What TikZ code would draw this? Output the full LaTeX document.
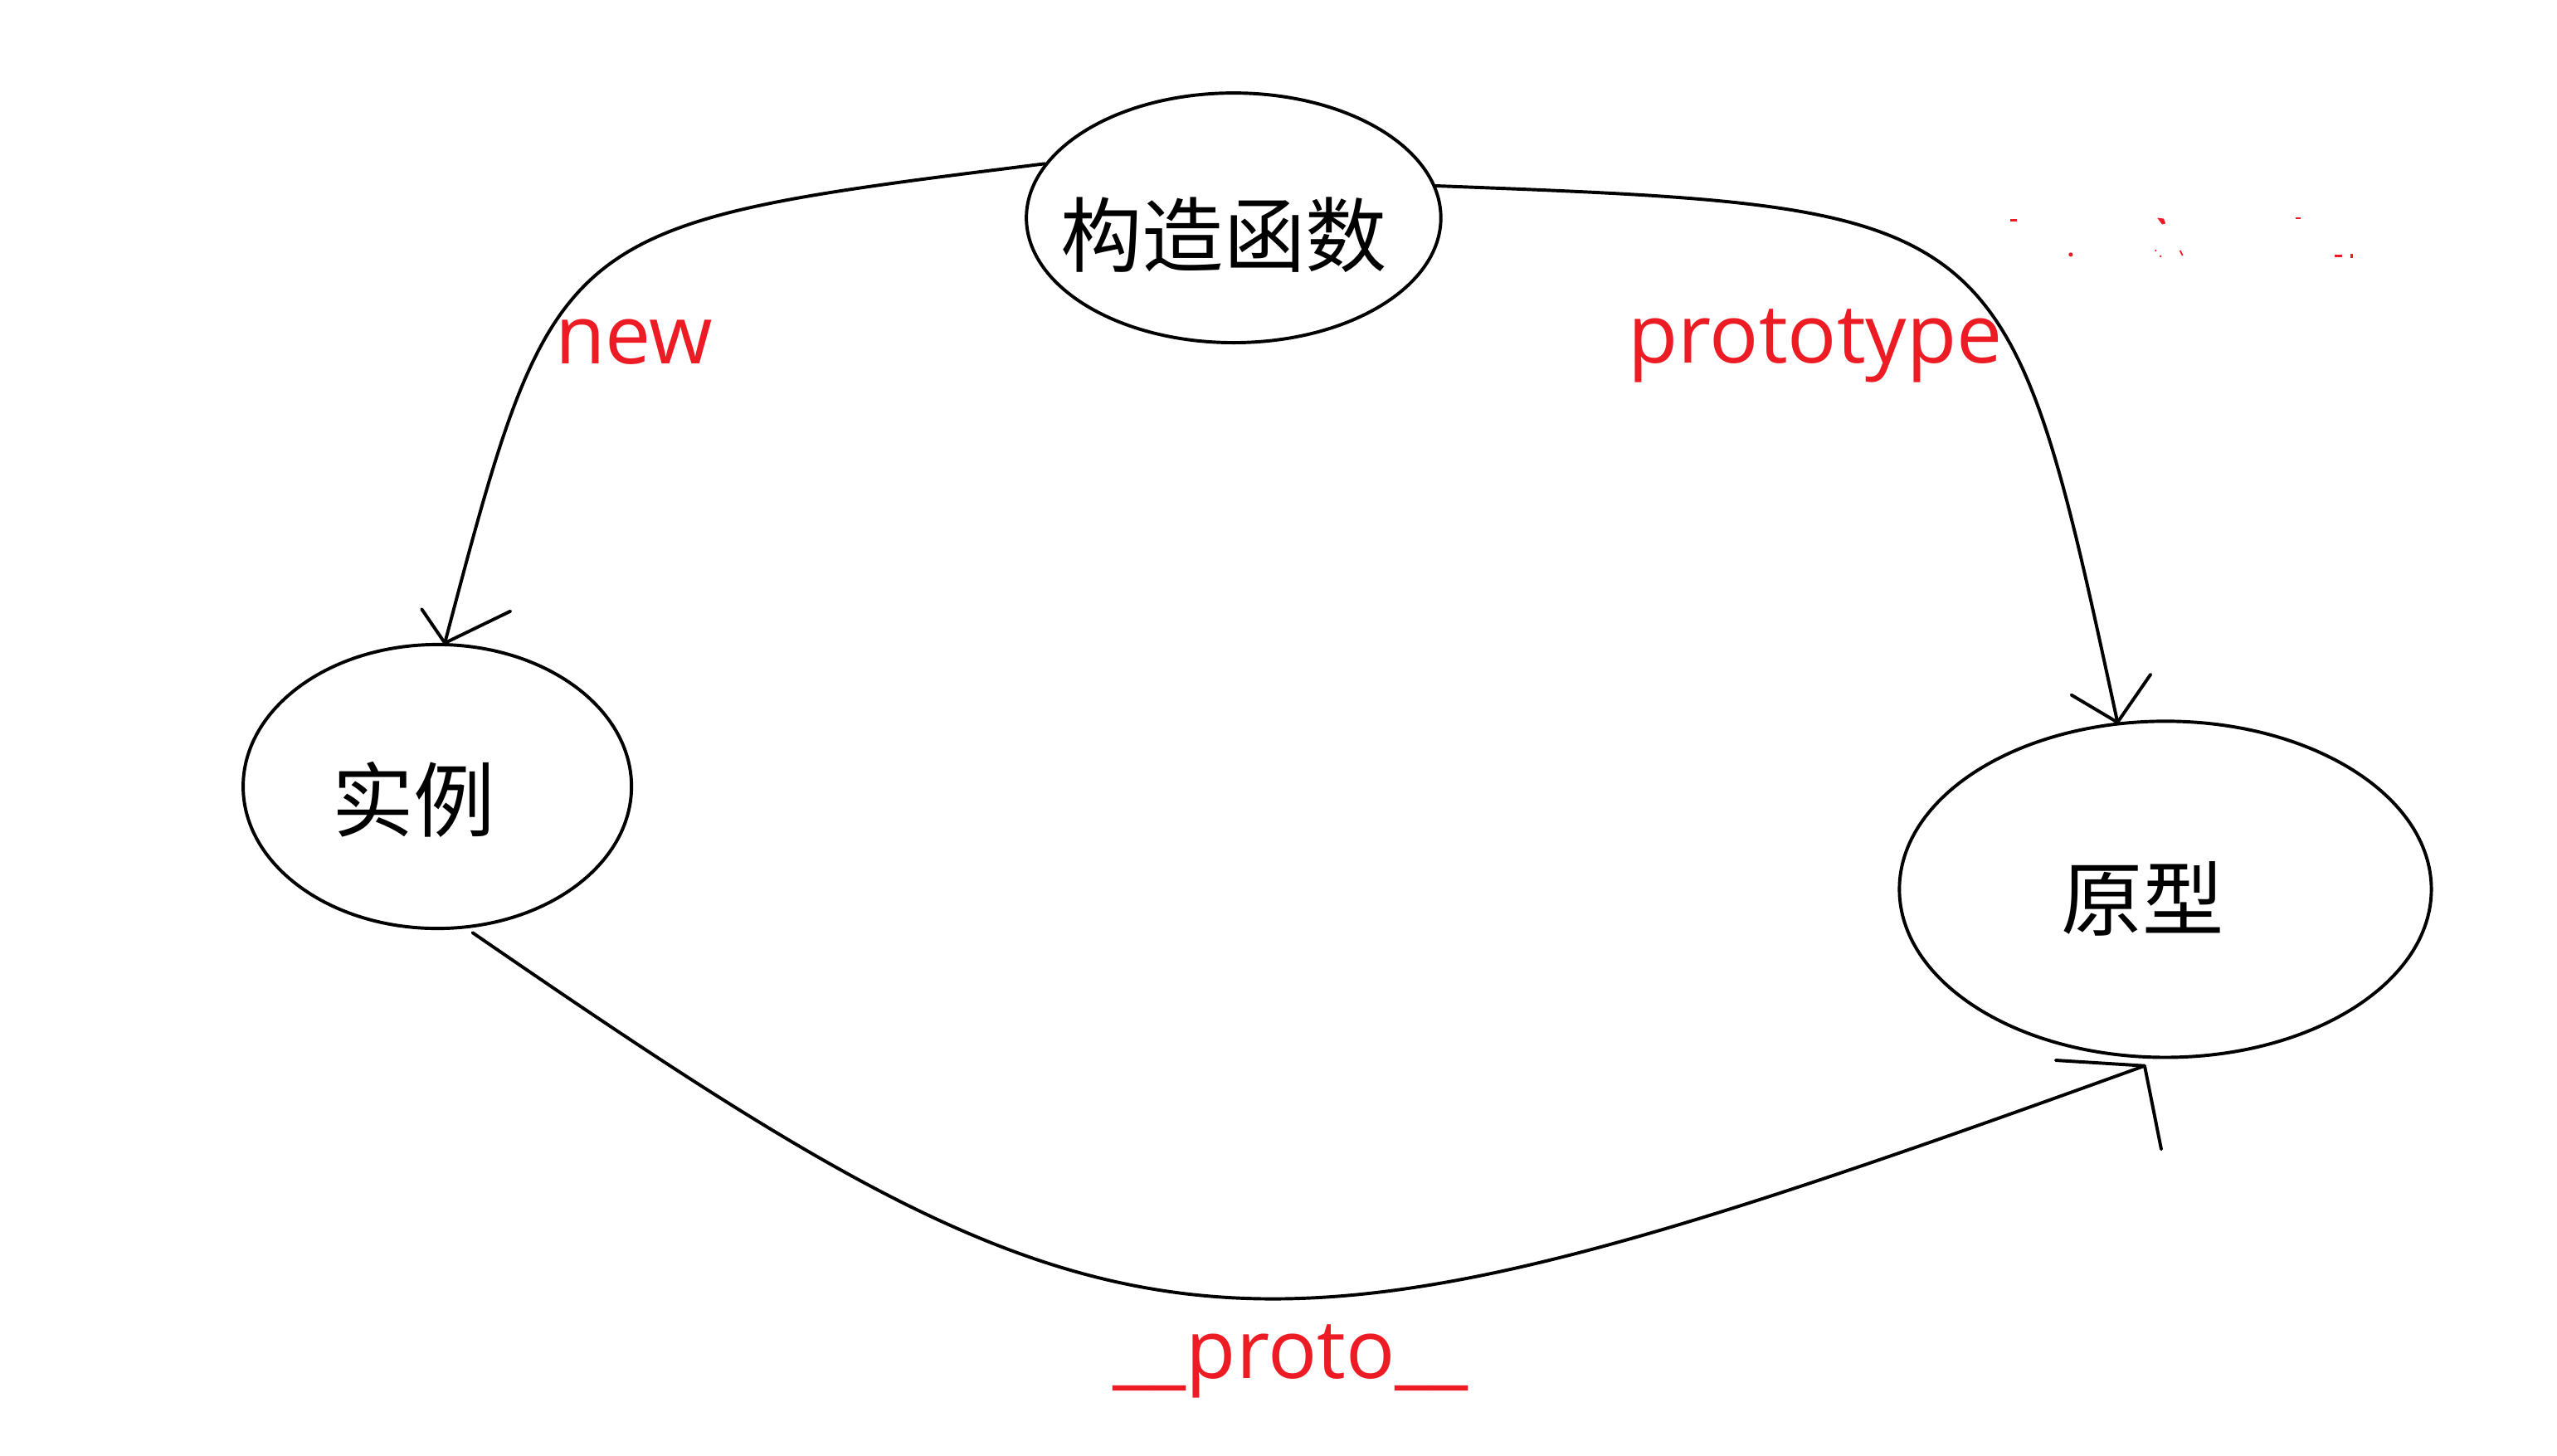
\documentclass[tikz,border=0pt]{standalone}
\usepackage{fontspec}
\setmainfont{Open Sans}
\newfontfamily\cjkfont{Noto Sans CJK SC}
\usetikzlibrary{shapes.geometric}
\definecolor{lblred}{RGB}{237,28,36}
\begin{document}
\begin{tikzpicture}[x=1pt,y=-1pt,
  ell/.style={draw, ellipse, inner sep=0pt, line width=2pt},
  cjk/.style={font=\cjkfont\fontsize{50}{60}\selectfont, inner sep=0pt, anchor=base},
  lbl/.style={font=\fontsize{50}{60}\selectfont, text=lblred, inner sep=0pt, anchor=base west},
  conn/.style={draw, line width=2pt, line cap=round},
  barb/.style={draw, line width=2pt, line cap=round},
  speck/.style={fill=lblred, draw=none}]
\fill[white] (0,0) rectangle (1567,892);
\useasboundingbox (0,0) rectangle (1567,892);

% ellipses
\node[ell, minimum width=254pt, minimum height=153pt] (ctor) at (756,133.5) {};
\node[ell, minimum width=238pt, minimum height=174pt] (inst) at (268,482) {};
\node[ell, minimum width=326pt, minimum height=206pt] (proto) at (1327,545) {};

% texts
\node[cjk] (ctortxt) at (750,163) {构造函数};
\node[cjk] (insttxt) at (253.5,509) {实例};
\node[cjk] (prototxt) at (1313,569.5) {原型};

% connectors
\coordinate (newtip) at (inst.87.1);
\coordinate (ptypetip) at (proto.106.1);
\coordinate (dtip) at ([yshift=-4.5pt]proto.-97.9);
\coordinate (dstart) at ([yshift=-3pt]inst.-76.2);

\draw[conn] (ctor.164.6) .. controls (340.3,137.6) and (340.3,137.6) .. (newtip);
\draw[barb] (newtip) -- ++(-14.2,-20.8) (newtip) -- ++(40.2,-19.5);

\draw[conn] (ctor.9.3) .. controls (1229.5,127.1) and (1229.5,127.1) .. (ptypetip);
\draw[barb] (ptypetip) -- ++(-28.3,-16.8) (ptypetip) -- ++(20.3,-29.4);

\draw[conn] (dstart) .. controls (698.8,853.3) and (749.9,857.3) .. (dtip);
\draw[barb] (dtip) -- ++(-54.5,-3.4) (dtip) -- ++(10.2,51.1);

% labels
\node[lbl] (newlbl) at (340,222.7) {new};
\node[lbl] (ptypelbl) at (997.5,222.2) {prototype};
\node[lbl] (dunderlbl) at (682,845) {\textunderscore\textunderscore proto\textunderscore\textunderscore};

% faint red specks
\fill[speck] (1232,134) rectangle (1236,135.5);
\fill[speck] (1269,156) circle (1.3);
\fill[speck] (1322,133.5) -- (1326,134) -- (1327,137) -- (1325,137.5) -- cycle;
\fill[speck] (1321,153.5) circle (0.6);
\fill[speck] (1324,157) circle (0.7);
\draw[lblred, line width=0.9pt] (1336,153.5) -- (1337.5,156.5);
\fill[speck] (1407,133.2) rectangle (1410,134.2);
\fill[speck] (1430.5,156.3) rectangle (1435.5,157.6);
\fill[speck] (1440.5,155.8) rectangle (1442,158.2);
\end{tikzpicture}
\end{document}
